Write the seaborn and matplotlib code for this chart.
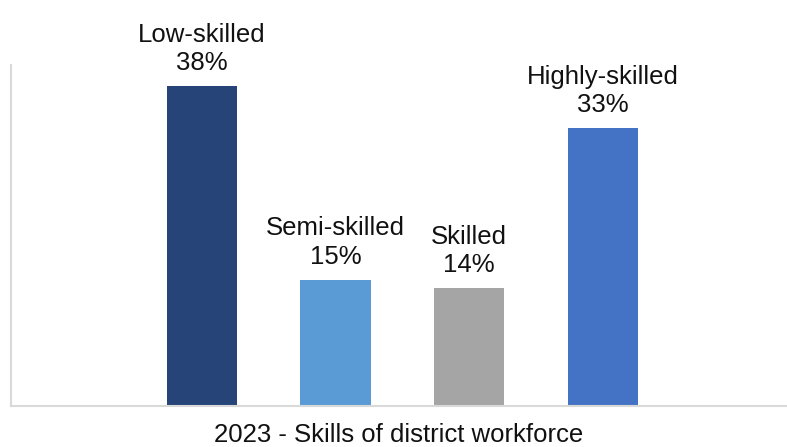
import matplotlib
matplotlib.use("Agg")
import matplotlib.pyplot as plt
import seaborn as sns
import pandas as pd

categories = ["Low-skilled", "Semi-skilled", "Skilled", "Highly-skilled"]
shares = [38, 15, 14, 33]
colors = ["#264478", "#5B9BD5", "#A5A5A5", "#4472C4"]
xlabel = "2023 - Skills of district workforce"

sns.set_theme(style="white")
plt.rcParams["font.family"] = ["Liberation Sans", "DejaVu Sans"]

df = pd.DataFrame({"category": categories, "share": shares})

fig = plt.figure(figsize=(7.87, 4.47), dpi=100)
ax = fig.add_axes([11 / 787, 41 / 447, 1 - 11 / 787, 341 / 447])

sns.barplot(data=df, x="category", y="share", hue="category",
            palette=colors, width=0.525, legend=False, ax=ax,
            saturation=1, edgecolor="none")

for i, (cat, val) in enumerate(zip(categories, shares)):
    ax.annotate(f"{cat}\n{val}%", xy=(i, val), xytext=(0, 8),
                textcoords="offset points", ha="center", va="bottom",
                fontsize=18.5, color="#111111", linespacing=1.22)

ax.set_xlim(-1.43, 4.38)
ax.set_ylim(0, 40.5)
ax.set_yticks([])
ax.set_xticks([])
ax.set_ylabel("")
ax.set_xlabel(xlabel, fontsize=18.5, color="#111111", labelpad=12.5)

for side in ["top", "right"]:
    ax.spines[side].set_visible(False)
for side in ["left", "bottom"]:
    ax.spines[side].set_color("#D9D9D9")
    ax.spines[side].set_linewidth(1.5)

fig.savefig("out.png", dpi=100)
